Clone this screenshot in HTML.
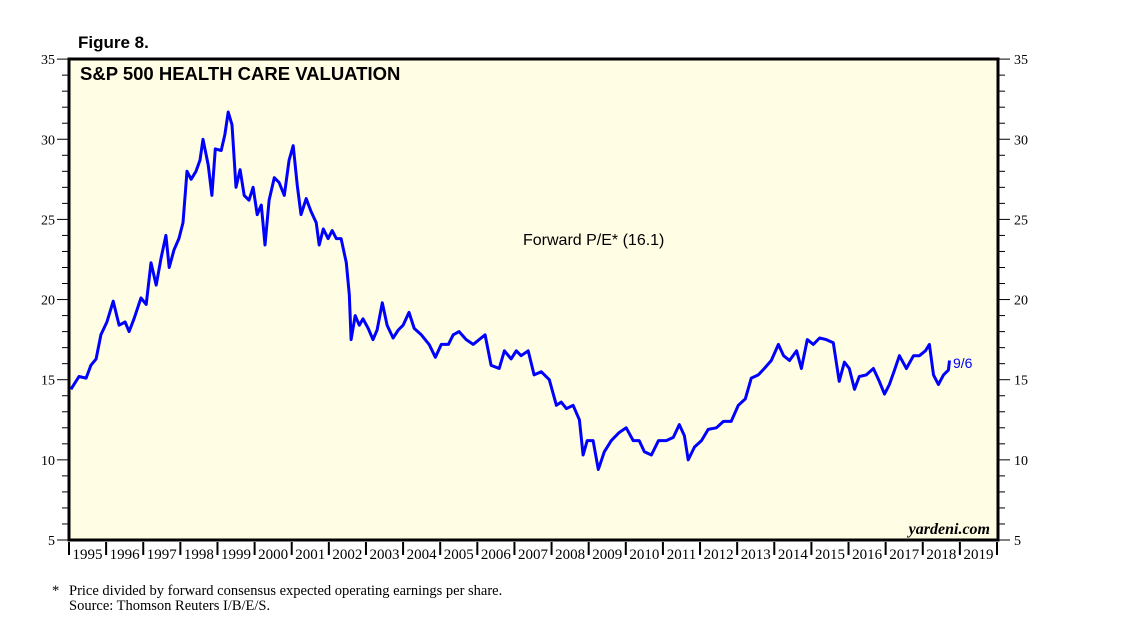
<!DOCTYPE html>
<html><head><meta charset="utf-8"><style>
body{margin:0;background:#fff;width:1138px;height:640px;overflow:hidden}
svg{display:block}
</style></head><body>
<svg id="chart" width="1138" height="640" xmlns="http://www.w3.org/2000/svg">
<text x="78" y="48" font-family="Liberation Sans, sans-serif" font-weight="bold" font-size="17">Figure 8.</text>
<rect x="69" y="59" width="929" height="481" fill="#fffde4" stroke="#000" stroke-width="3"/>
<text x="80" y="80" font-family="Liberation Sans, sans-serif" font-weight="bold" font-size="18.5">S&amp;P 500 HEALTH CARE VALUATION</text>
<g id="axes"></g>
<path id="line" fill="none" stroke="#0000ff" stroke-width="3" stroke-linejoin="round"/>
<text x="523" y="245" font-family="Liberation Sans, sans-serif" font-size="16">Forward P/E* (16.1)</text>
<text x="953" y="368" font-family="Liberation Sans, sans-serif" font-size="14" fill="#0000ff">9/6</text>
<text x="990" y="534" text-anchor="end" font-family="Liberation Serif, serif" font-style="italic" font-weight="bold" font-size="16">yardeni.com</text>
<text x="52" y="595" font-family="Liberation Serif, serif" font-size="14.5">*</text>
<text x="69" y="595" font-family="Liberation Serif, serif" font-size="14.5">Price divided by forward consensus expected operating earnings per share.</text>
<text x="69" y="610" font-family="Liberation Serif, serif" font-size="14.5">Source: Thomson Reuters I/B/E/S.</text>
</svg>
<script>
const years=[1995,1996,1997,1998,1999,2000,2001,2002,2003,2004,2005,2006,2007,2008,2009,2010,2011,2012,2013,2014,2015,2016,2017,2018,2019];
const yTicks=[5,10,15,20,25,30,35];
const dates=[0.05,.27,.46,.59,.73,.86,1.02,1.19,1.35,1.51,1.62,1.75,1.94,2.08,2.21,2.35,2.48,2.61,2.70,2.83,2.96,3.07,3.18,3.29,3.42,3.53,3.61,3.75,3.85,3.94,4.10,4.20,4.29,4.39,4.50,4.61,4.72,4.85,4.96,5.07,5.18,5.28,5.39,5.53,5.66,5.80,5.93,6.04,6.15,6.25,6.39,6.52,6.66,6.74,6.85,6.98,7.09,7.20,7.33,7.47,7.55,7.60,7.71,7.82,7.92,8.06,8.19,8.30,8.44,8.57,8.73,8.87,9.00,9.16,9.30,9.49,9.70,9.87,10.03,10.22,10.35,10.51,10.70,10.89,11.05,11.21,11.37,11.59,11.73,11.91,12.05,12.18,12.37,12.53,12.72,12.94,13.13,13.26,13.40,13.58,13.75,13.85,13.96,14.12,14.26,14.42,14.61,14.82,15.01,15.20,15.36,15.50,15.69,15.88,16.09,16.28,16.44,16.58,16.68,16.85,17.04,17.22,17.44,17.63,17.84,18.03,18.22,18.38,18.57,18.73,18.92,19.11,19.25,19.41,19.60,19.73,19.89,20.05,20.22,20.40,20.59,20.75,20.89,21.02,21.16,21.29,21.48,21.67,21.83,21.97,22.10,22.24,22.37,22.56,22.75,22.91,23.07,23.18,23.29,23.42,23.56,23.69,23.72];
const values=[14.4,15.2,15.1,15.9,16.3,17.8,18.6,19.9,18.4,18.6,18.0,18.8,20.1,19.7,22.3,20.9,22.6,24.0,22.0,23.1,23.8,24.8,28.0,27.5,28.0,28.7,30.0,28.4,26.5,29.4,29.3,30.3,31.7,30.9,27.0,28.1,26.5,26.2,27.0,25.3,25.9,23.4,26.2,27.6,27.3,26.5,28.7,29.6,27.1,25.3,26.3,25.5,24.8,23.4,24.4,23.8,24.3,23.8,23.8,22.3,20.3,17.5,19.0,18.4,18.8,18.2,17.5,18.1,19.8,18.4,17.6,18.1,18.4,19.2,18.2,17.8,17.2,16.4,17.2,17.2,17.8,18.0,17.5,17.2,17.5,17.8,15.9,15.7,16.8,16.3,16.8,16.5,16.8,15.3,15.5,15.0,13.4,13.6,13.2,13.4,12.5,10.3,11.2,11.2,9.4,10.5,11.2,11.7,12.0,11.2,11.2,10.5,10.3,11.2,11.2,11.4,12.2,11.5,10.0,10.8,11.2,11.9,12.0,12.4,12.4,13.4,13.8,15.1,15.3,15.7,16.2,17.2,16.5,16.2,16.8,15.7,17.5,17.2,17.6,17.5,17.3,14.9,16.1,15.7,14.4,15.2,15.3,15.7,14.9,14.1,14.7,15.6,16.5,15.7,16.5,16.5,16.8,17.2,15.3,14.7,15.3,15.6,16.2];
const X0=69,XW=37.12,Y0=540,YS=16.03;
const sx=t=>X0+t*XW, sy=v=>Y0-(v-5)*YS;
const NS='http://www.w3.org/2000/svg';
const ax=document.getElementById('axes');
function mk(tag,attrs){const e=document.createElementNS(NS,tag);for(const k in attrs)e.setAttribute(k,attrs[k]);ax.appendChild(e);return e;}
for(let v=5;v<=35;v++){
  const major=yTicks.includes(v);
  const l=mk('line',{x1:major?57:62,x2:68,y1:sy(v),y2:sy(v),stroke:'#000','stroke-width':1});
  
  
  const r=mk('line',{x1:999,x2:major?1010:1005,y1:sy(v),y2:sy(v),stroke:'#000','stroke-width':1});
  
  
}
yTicks.forEach(v=>{
  const a=mk('text',{x:55,y:sy(v)+5,'text-anchor':'end','font-family':'Liberation Serif, serif','font-size':14});
  a.textContent=v;
  
  
  const b=mk('text',{x:1014,y:sy(v)+5,'font-family':'Liberation Serif, serif','font-size':14});
  b.textContent=v;
  
  
});
years.forEach((y,i)=>{
  const t=mk('line',{x1:sx(i),x2:sx(i),y1:542,y2:555,stroke:'#000','stroke-width':2});
  
  
  const lb=mk('text',{x:sx(i)+XW/2,y:559,'text-anchor':'middle','font-family':'Liberation Serif, serif','font-size':15});
  lb.textContent=y;
  
  
});
const endT=mk('line',{x1:sx(25),x2:sx(25),y1:542,y2:555,stroke:'#000','stroke-width':2});


document.getElementById('line').setAttribute('d',dates.map((t,i)=>(i?'L':'M')+sx(t).toFixed(1)+','+sy(values[i]).toFixed(1)).join(''));
</script>
</body></html>
